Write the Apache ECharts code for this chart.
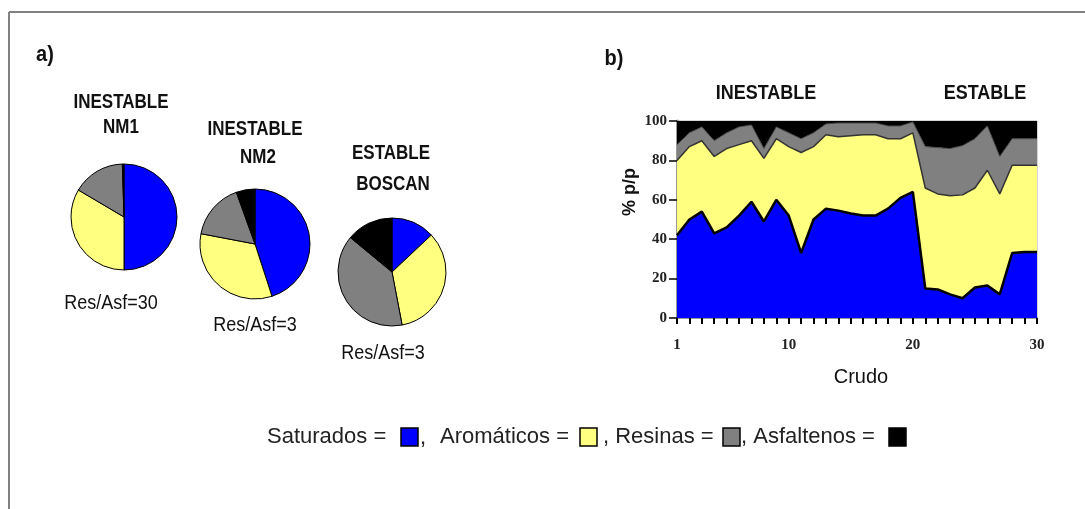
<!DOCTYPE html>
<html>
<head>
<meta charset="utf-8">
<script src="https://cdn.jsdelivr.net/npm/echarts@6/dist/echarts.min.js"></script>
<style>
html,body{margin:0;padding:0;background:#fff;}
#c{width:1085px;height:509px;}
</style>
</head>
<body>
<div id="c"></div>
<script>
// ---- data ----
const crudos = ['1','2','3','4','5','6','7','8','9','10','11','12','13','14','15','16','17','18','19','20','21','22','23','24','25','26','27','28','29','30'];
const xTickLabels = ['1','10','20','30'];
const saturados  = [42,50,54,43,46,52,59,49,60,52,33,50,55.5,54.5,53,52,52,55.5,61,64,15,14.5,12,10,15.5,16.5,12,33,33.5,33.5];
const aromaticos = [38,37,36,39,40,36,31,32,31,35,51,37,37.5,37.5,39.5,41,41,35.5,30,30,51,48.5,50,52.5,50.5,58.5,51,44.5,44,44];
const resinas    = [8,7,7,8,8,9,8,5,6,7,7,7,5.5,7,6.5,6,6,6.5,6.5,5.5,21,23.5,24,25,25,22.5,19,13.5,13.5,13.5];
const asfaltenos = [12,6,3,10,6,3,2,14,3,6,9,6,1.5,1,1,1,1,2.5,2.5,0.5,13,13.5,14,12.5,9,2.5,18,9,9,9];
const fracciones = ['Saturados','Aromáticos','Resinas','Asfaltenos'];
const pieNM1    = [50, 33.5, 16, 0.5];
const pieNM2    = [45, 33, 16.5, 5.5];
const pieBoscan = [13, 34, 39, 14];
const yTicks = [0, 20, 40, 60, 80, 100];

const colors = ['#0000FF', '#FFFF80', '#808080', '#000000'];
const sans = '"Liberation Sans", Arial, sans-serif';
const serif = '"Liberation Serif", "Times New Roman", serif';

function pieData(vals) {
  return vals.map((v, i) => ({ name: fracciones[i], value: v, itemStyle: { color: colors[i] } }));
}
function pie(center, r, vals) {
  return {
    type: 'pie', center: center, radius: r, data: pieData(vals),
    label: { show: false }, labelLine: { show: false }, silent: true,
    itemStyle: { borderColor: '#000', borderWidth: 1 },
    startAngle: 90, clockwise: true
  };
}
function areaSeries(name, vals, idx, line) {
  return {
    type: 'line', name: name, data: vals, stack: 'total', symbol: 'none',
    areaStyle: { color: colors[idx], opacity: 1 },
    lineStyle: line, z: 10 - idx, silent: true
  };
}
function txt(x, y, s, font, opts) {
  opts = opts || {};
  return {
    type: 'text', x: x, y: y, scaleX: opts.sx || 1, scaleY: opts.sy || 1, rotation: opts.rot || 0,
    style: { text: s, font: font, fill: opts.fill || '#111', textAlign: opts.align || 'center', textVerticalAlign: 'middle' }
  };
}
function box(x, y, c) {
  return { type: 'rect', shape: { x: x, y: y, width: 17, height: 18 }, style: { fill: c, stroke: '#000', lineWidth: 1.5 } };
}

const chart = echarts.init(document.getElementById('c'), null, { renderer: 'canvas' });
chart.setOption({
  animation: false,
  backgroundColor: '#fff',
  grid: { left: 677, right: 48, top: 121, bottom: 191, show: true, borderColor: '#aaa', borderWidth: 1 },
  xAxis: {
    type: 'category', data: crudos, boundaryGap: false,
    axisLine: { lineStyle: { color: '#999', width: 2 } },
    axisTick: { interval: 0, length: 6, lineStyle: { color: '#000', width: 2 } },
    axisLabel: { interval: (i, v) => xTickLabels.includes(v), margin: 20, fontFamily: serif, fontWeight: 'bold', fontSize: 15, color: '#222' },
    splitLine: { show: false }
  },
  yAxis: {
    type: 'value', min: yTicks[0], max: yTicks[yTicks.length - 1], interval: 20,
    axisLine: { show: true, lineStyle: { color: '#999', width: 3 } },
    axisTick: { show: true, length: 8, lineStyle: { color: '#000', width: 1.5 } },
    axisLabel: { margin: 10, fontFamily: serif, fontWeight: 'bold', fontSize: 15, color: '#222' },
    splitLine: { show: false }
  },
  series: [
    areaSeries('Saturados', saturados, 0, { color: '#000', width: 2.5 }),
    areaSeries('Aromáticos', aromaticos, 1, { color: '#333', width: 1.5 }),
    areaSeries('Resinas', resinas, 2, { color: '#444', width: 1 }),
    areaSeries('Asfaltenos', asfaltenos, 3, { width: 0 }),
    pie([124, 217], 53, pieNM1),
    pie([255, 244], 55, pieNM2),
    pie([392, 272], 54, pieBoscan)
  ],
  graphic: [
    { type: 'line', shape: { x1: 9, y1: 12, x2: 1085, y2: 12 }, style: { stroke: '#808080', lineWidth: 2 } },
    { type: 'line', shape: { x1: 9, y1: 12, x2: 9, y2: 509 }, style: { stroke: '#808080', lineWidth: 2 } },
    txt(45, 55, 'a)', 'bold 20px ' + sans, { sy: 1.1 }),
    txt(614, 59, 'b)', 'bold 20px ' + sans, { sy: 1.1 }),
    txt(121, 103, 'INESTABLE', 'bold 17px ' + sans, { sy: 1.15 }),
    txt(121, 128, 'NM1', 'bold 17px ' + sans, { sy: 1.15 }),
    txt(255, 130, 'INESTABLE', 'bold 17px ' + sans, { sy: 1.15 }),
    txt(258, 158, 'NM2', 'bold 17px ' + sans, { sy: 1.15 }),
    txt(391, 154, 'ESTABLE', 'bold 17px ' + sans, { sy: 1.15 }),
    txt(393, 185, 'BOSCAN', 'bold 17px ' + sans, { sy: 1.15 }),
    txt(111, 303, 'Res/Asf=30', '18px ' + sans, { sy: 1.12 }),
    txt(255, 325, 'Res/Asf=3', '18px ' + sans, { sy: 1.12 }),
    txt(383, 353, 'Res/Asf=3', '18px ' + sans, { sy: 1.12 }),
    txt(766, 94, 'INESTABLE', 'bold 18px ' + sans, { sy: 1.1 }),
    txt(985, 94, 'ESTABLE', 'bold 18px ' + sans, { sy: 1.1 }),
    txt(861, 377, 'Crudo', '20px ' + sans),
    txt(630, 192, '% p/p', 'bold 18px ' + sans, { rot: Math.PI / 2 }),
    txt(267, 437, 'Saturados =', '22px ' + sans, { align: 'left', fill: '#222' }),
    box(401, 428, colors[0]),
    txt(420, 438, ',', '22px ' + sans, { align: 'left', fill: '#222' }),
    txt(440, 437, 'Aromáticos =', '22px ' + sans, { align: 'left', fill: '#222' }),
    box(580, 428, colors[1]),
    txt(603, 437, ', Resinas =', '22px ' + sans, { align: 'left', fill: '#222' }),
    box(723, 428, colors[2]),
    txt(741, 437, ', Asfaltenos =', '22px ' + sans, { align: 'left', fill: '#222' }),
    box(889, 428, colors[3])
  ]
});
</script>
</body>
</html>
